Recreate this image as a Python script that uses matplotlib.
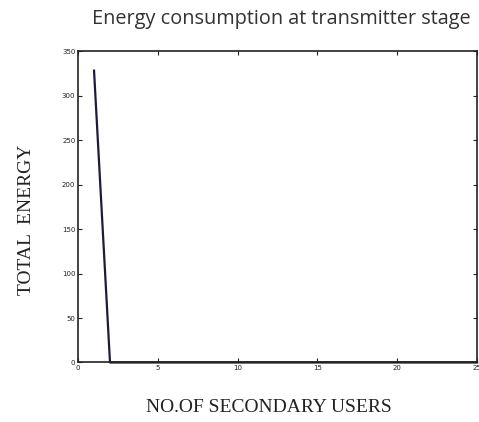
import matplotlib.pyplot as plt

# energy per number of secondary users
users = list(range(1, 26))
energy = [328] + [0] * 24

x_ticks = [0, 5, 10, 15, 20, 25]
y_ticks = [0, 50, 100, 150, 200, 250, 300, 350]

fig = plt.figure(figsize=(4.79, 4.22), dpi=100)
ax = fig.add_axes([0.163, 0.141, 0.833, 0.738])

ax.plot(users, energy, color='#1c1c3a', linewidth=1.6, clip_on=False)

ax.set_xlim(0, 25)
ax.set_ylim(0, 350)
ax.set_xticks(x_ticks)
ax.set_yticks(y_ticks)
ax.tick_params(direction='in', length=3, width=0.8, labelsize=5,
               top=True, right=True, pad=2, colors='#222222')
for s in ax.spines.values():
    s.set_linewidth(1.2)
    s.set_color('#222222')

fig.text(0.588, 0.955, 'Energy consumption at transmitter stage',
         ha='center', va='center', fontsize=14.3, family='Open Sans',
         color='#333333')
fig.text(0.562, 0.035, 'NO.OF SECONDARY USERS', ha='center', va='center',
         fontsize=14, family='Liberation Serif', color='#222222')
fig.text(0.056, 0.48, 'TOTAL  ENERGY', ha='center', va='center',
         rotation=90, fontsize=14, family='Liberation Serif', color='#222222')

fig.savefig('out.png', dpi=100)
